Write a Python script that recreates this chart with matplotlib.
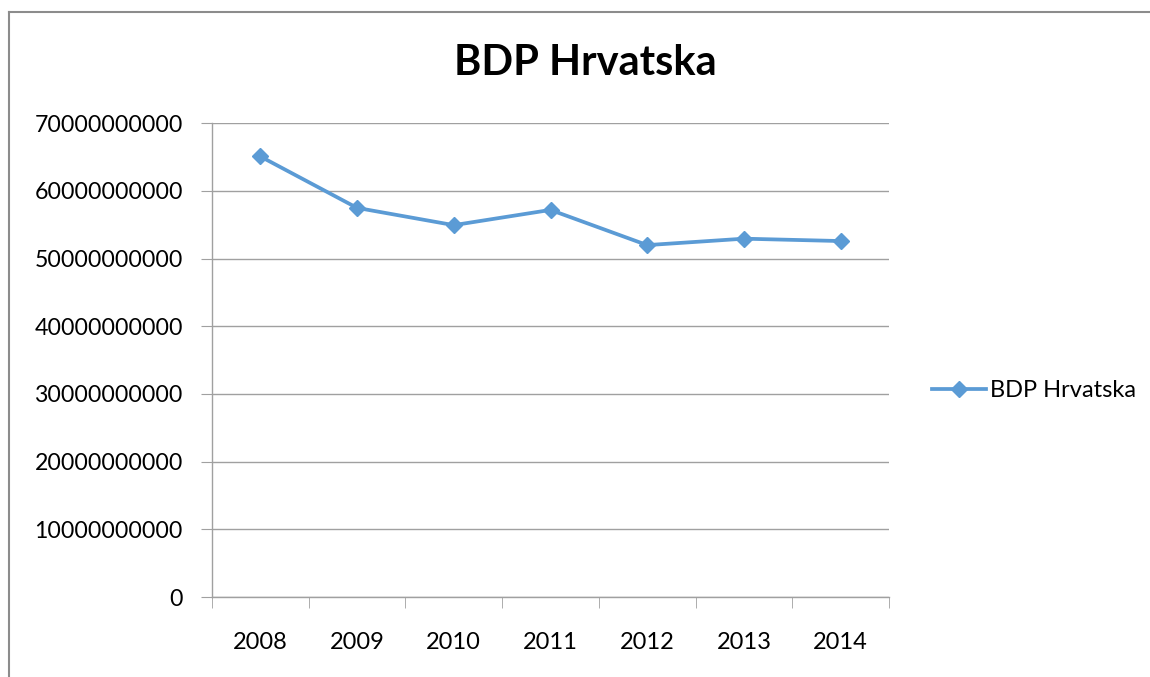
import matplotlib.pyplot as plt
from matplotlib.lines import Line2D

plt.rcParams['font.family'] = ['Lato', 'DejaVu Sans']

years = ['2008', '2009', '2010', '2011', '2012', '2013', '2014']
bdp = [65.1e9, 57.5e9, 54.95e9, 57.2e9, 52.0e9, 52.95e9, 52.6e9]
yticks = [0, 10e9, 20e9, 30e9, 40e9, 50e9, 60e9, 70e9]

blue = '#5B9BD5'
grey = '#A0A0A0'

fig = plt.figure(figsize=(11.5, 6.77), dpi=100)
ax = fig.add_axes([212 / 1150, 1 - 597 / 677, 677 / 1150, (597 - 123.3) / 677])

# outer chart frame (only left and top edges are visible)
fx, fy = 8.5 / 1150, 1 - 12 / 677
fig.add_artist(Line2D([fx, fx], [0, fy], transform=fig.transFigure,
                      color='#8C8C8C', linewidth=1.5))
fig.add_artist(Line2D([fx, 1.01], [fy, fy], transform=fig.transFigure,
                      color='#8C8C8C', linewidth=1.5))

x = list(range(len(years)))
ax.plot(x, bdp, color=blue, linewidth=2.7, marker='D', markersize=8,
        label='BDP Hrvatska')

ax.set_ylim(0, 70e9)
ax.set_xlim(-0.5, len(years) - 0.5)
ax.set_yticks(yticks)
ax.set_yticklabels([f'{int(v)}' for v in yticks])
ax.set_xticks(x)
ax.set_xticklabels(years)
ax.set_xticks([i - 0.5 for i in range(len(years) + 1)], minor=True)

ax.grid(axis='y', color=grey, linewidth=1)
ax.set_axisbelow(True)
for s in ['top', 'right']:
    ax.spines[s].set_visible(False)
for s in ['left', 'bottom']:
    ax.spines[s].set_color(grey)
    ax.spines[s].set_linewidth(1)

ax.tick_params(axis='y', length=8, color=grey, labelsize=16.7, pad=13)
ax.tick_params(axis='x', which='major', length=0, labelsize=17, pad=25)
ax.tick_params(axis='x', which='minor', length=8, color=grey)

fig.text(585 / 1150, 1 - 63 / 677, 'BDP Hrvatska', ha='center', va='center',
         fontsize=30, fontweight='bold')

ax.legend(loc='center left', bbox_to_anchor=(1.032, 0.435), frameon=False,
          fontsize=17, handlelength=2.3, handletextpad=0.15)

fig.savefig('out.png', dpi=100)
